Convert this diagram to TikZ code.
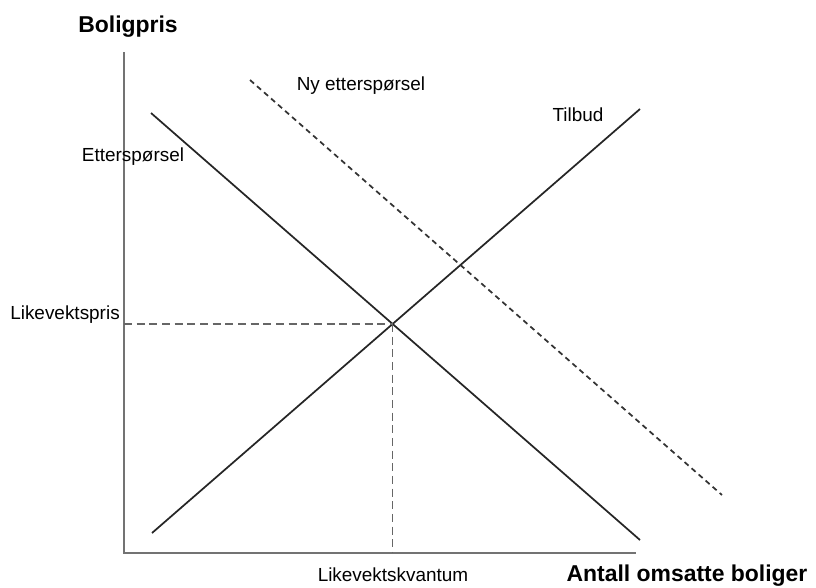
\documentclass[tikz,border=0pt]{standalone}
\usepackage{fontspec}
\setmainfont{Liberation Sans}
\usetikzlibrary{positioning}

\tikzset{
  axis/.style={line width=1.7pt, color=black!55},
  curve/.style={line width=1.3pt, color=black!85},
  guide/.style={line width=1.3pt, color=black!60, dash pattern=on 6pt off 3.5pt},
  newcurve/.style={line width=1.3pt, color=black!80, dash pattern=on 4pt off 3pt},
  lbl/.style={font=\fontsize{14.2}{16}\selectfont, inner sep=0pt},
  axlbl/.style={font=\fontsize{17.2}{19}\selectfont\bfseries, inner sep=0pt}
}

\begin{document}
\begin{tikzpicture}[x=0.75pt, y=-0.75pt]
	\useasboundingbox (0,0) rectangle (816,587);

	% axes
	\coordinate (top) at (124,52);
	\coordinate (origin) at (124,553);
	\coordinate (right) at (636,553);
	\draw [axis] (top) -- (origin) -- (right);

	% demand, supply, new demand
	\coordinate (d1) at (151,113);
	\coordinate (d2) at (640,540);
	\coordinate (s1) at (152,533);
	\coordinate (s2) at (640,109);
	\coordinate (n1) at (250,80);
	\coordinate (n2) at (722,495);
	\draw [curve] (d1) -- (d2);
	\draw [curve] (s1) -- (s2);
	\draw [newcurve] (n1) -- (n2);

	% equilibrium
	\coordinate (eq) at (intersection of d1--d2 and s1--s2);
	\draw [guide] (eq -| origin) -- (eq);
	\draw [guide] (eq) -- (eq |- origin);

	\node [axlbl] (pris) at (128,27) {Boligpris};
	\node [axlbl] (antall) at (687,576) {Antall omsatte boliger};
	\node [lbl] (ett) at (133,157) {Etterspørsel};
	\node [lbl] (nyett) at (361,86) {Ny etterspørsel};
	\node [lbl] (tilbud) at (578,115) {Tilbud};
	\node [lbl, anchor=east] (lpris) at (120,315) {Likevektspris};
	\node [lbl] (lkvant) at (393,575) {Likevektskvantum};

\end{tikzpicture}
\end{document}
